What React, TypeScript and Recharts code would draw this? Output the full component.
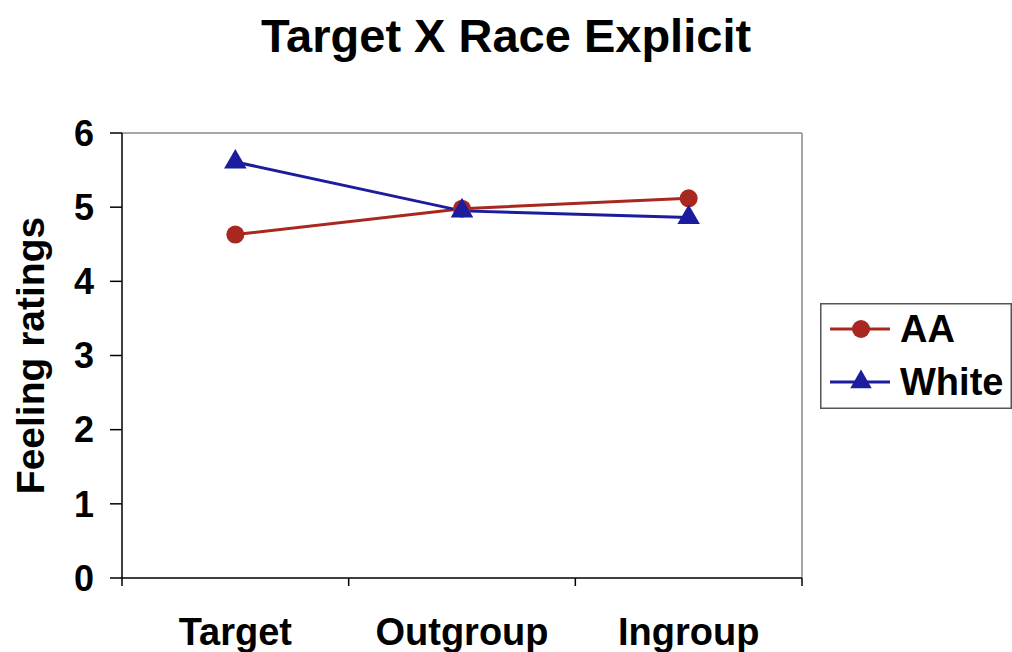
import React from "react";
import { LineChart, Line, XAxis, YAxis, Legend, Symbols, CartesianGrid } from "recharts";

const categories = ["Target", "Outgroup", "Ingroup"];
const aaValues = [4.63, 4.98, 5.12];
const whiteValues = [5.61, 4.95, 4.86];
const yTicks = [0, 1, 2, 3, 4, 5, 6];

const series = [
  { key: "AA", color: "#A8281F", marker: "circle" as const },
  { key: "White", color: "#1C1C9E", marker: "triangle" as const },
];

const data = categories.map((group, i) => ({
  group,
  AA: aaValues[i],
  White: whiteValues[i],
}));

const FONT = "'Liberation Sans', Arial, Helvetica, sans-serif";

// layout
const CHART_W = 1012;
const CHART_H = 652;
const MARGIN = { top: 133, right: 210, bottom: 14, left: 22 };
const Y_AXIS_W = 100;
const X_AXIS_H = 60;
const X_TICK_MARGIN = 40;
const PLOT_W = CHART_W - MARGIN.left - MARGIN.right - Y_AXIS_W;
const STEP = PLOT_W / categories.length;

const TriangleDot = (props: any) => {
  const { cx, cy, fill } = props;
  if (cx == null || cy == null) return null;
  return <Symbols cx={cx} cy={cy} type="triangle" size={220} fill={fill} stroke="none" />;
};

// category label + Excel style tick marks sitting between categories
const CategoryTick = (props: any) => {
  const { x, y, payload, index } = props;
  const axisY = y - X_TICK_MARGIN;
  const marks = [x - STEP / 2];
  if (index === categories.length - 1) marks.push(x + STEP / 2);
  return (
    <g>
      {marks.map((mx) => (
        <line key={mx} x1={mx} x2={mx} y1={axisY} y2={axisY + 8} stroke="#000" strokeWidth={1.5} />
      ))}
      <text
        x={x}
        y={y}
        dy="0.71em"
        textAnchor="middle"
        fontFamily={FONT}
        fontWeight="bold"
        fontSize={38}
        fill="#000"
      >
        {payload.value}
      </text>
    </g>
  );
};

const YTitle = (props: any) => {
  const { viewBox } = props;
  const x = viewBox.x + 8;
  const y = viewBox.y + viewBox.height / 2;
  return (
    <text
      x={x}
      y={y}
      transform={`rotate(-90, ${x}, ${y})`}
      textAnchor="middle"
      dominantBaseline="central"
      fontFamily={FONT}
      fontWeight="bold"
      fontSize={39}
      fill="#000"
    >
      Feeling ratings
    </text>
  );
};

const renderLegend = () => (
  <svg width={192} height={106} style={{ display: "block" }}>
    <rect x={0.75} y={0.75} width={190.5} height={104.5} fill="#fff" stroke="#555" strokeWidth={1.5} />
    {series.map((s, i) => {
      const cy = 26 + i * 53;
      return (
        <g key={s.key}>
          <line x1={10} x2={70} y1={cy} y2={cy} stroke={s.color} strokeWidth={3} />
          {s.marker === "circle" ? (
            <circle cx={41} cy={cy} r={9} fill={s.color} />
          ) : (
            <Symbols cx={41} cy={cy} type="triangle" size={200} fill={s.color} />
          )}
          <text
            x={80}
            y={cy}
            dominantBaseline="central"
            fontFamily={FONT}
            fontWeight="bold"
            fontSize={38}
            fill="#000"
          >
            {s.key}
          </text>
        </g>
      );
    })}
  </svg>
);

export default function App() {
  return (
    <div style={{ position: "absolute", left: 0, top: 0, width: CHART_W, height: CHART_H, background: "#fff" }}>
      <div
        style={{
          position: "absolute",
          left: 0,
          top: 13,
          width: CHART_W,
          textAlign: "center",
          fontFamily: FONT,
          fontWeight: "bold",
          fontSize: 47,
          lineHeight: "46px",
          color: "#000",
        }}
      >
        Target X Race Explicit
      </div>
      <LineChart width={CHART_W} height={CHART_H} data={data} margin={MARGIN}>
        {/* grey plot frame: top and right edges */}
        <CartesianGrid
          stroke="#8a8a8a"
          strokeWidth={1.5}
          horizontalCoordinatesGenerator={({ offset }: any) => [offset.top]}
          verticalCoordinatesGenerator={({ offset }: any) => [offset.left + offset.width]}
        />
        <XAxis
          dataKey="group"
          padding={{ left: STEP / 2, right: STEP / 2 }}
          axisLine={{ stroke: "#000", strokeWidth: 1.5 }}
          tickLine={false}
          tickSize={0}
          tickMargin={X_TICK_MARGIN}
          height={X_AXIS_H}
          interval={0}
          tick={<CategoryTick />}
        />
        <YAxis
          domain={[0, 6]}
          ticks={yTicks}
          width={Y_AXIS_W}
          interval={0}
          axisLine={{ stroke: "#000", strokeWidth: 1.5 }}
          tickLine={{ stroke: "#000", strokeWidth: 1.5 }}
          tickSize={12}
          tickMargin={16}
          tick={{ fontFamily: FONT, fontWeight: "bold", fontSize: 36, fill: "#000" }}
          label={<YTitle />}
        />
        <Legend
          layout="vertical"
          align="center"
          verticalAlign="middle"
          content={renderLegend}
          wrapperStyle={{ left: 820, top: 303, width: 192, height: 106 }}
        />
        <Line
          dataKey="AA"
          name="AA"
          stroke={series[0].color}
          strokeWidth={3}
          dot={{ r: 9, fill: series[0].color, stroke: "none" }}
          activeDot={false}
          isAnimationActive={false}
        />
        <Line
          dataKey="White"
          name="White"
          stroke={series[1].color}
          strokeWidth={3}
          dot={<TriangleDot fill={series[1].color} />}
          activeDot={false}
          isAnimationActive={false}
        />
      </LineChart>
    </div>
  );
}
